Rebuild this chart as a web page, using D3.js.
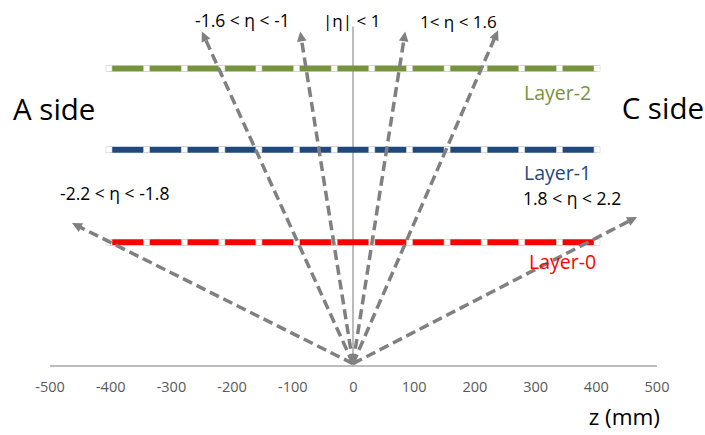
<!DOCTYPE html>
<html>
<head>
<meta charset="utf-8">
<script src="https://cdn.jsdelivr.net/npm/d3@7"></script>
<style>
  body { margin: 0; background: #fff; }
  svg { display: block; font-family: "Open Sans", sans-serif; }
</style>
</head>
<body>
<div id="chart"></div>
<script>
/* Daten: Lagen, Markerpositionen (z in mm), Pfeile */
var layerNames = ["Layer-0", "Layer-1", "Layer-2"];
var layerY = [200, 350, 482];
var layerColors = ["#ff0000", "#1f497d", "#77933c"];
var markerZ = [-402, -340, -278, -216, -155, -93, -31, 31, 93, 155, 216, 278, 340, 402];

var arrowOrigin = [0, 3];
var arrowEndZ = [-463, -249, -87, 86, 239, 468];
var arrowEndY = [231, 542, 542, 542, 544, 241];

var zTicks = [-500, -400, -300, -200, -100, 0, 100, 200, 300, 400, 500];
var etaLabels = ["-1.6 < \u03b7 < -1", "|\u03b7| < 1", "1< \u03b7 < 1.6", "-2.2 < \u03b7 < -1.8", "1.8 < \u03b7 < 2.2"];

var W = 705, H = 435;

var svg = d3.select("#chart").append("svg").attr("width", W).attr("height", H);
svg.append("rect").attr("width", W).attr("height", H).attr("fill", "white");

var x = d3.scaleLinear().domain([-500, 500]).range([49.5, 656.5]);
var y = d3.scaleLinear().domain([0, 550]).range([365.5, 26.5]);

/* x-Achse */
var axis = svg.append("g").attr("transform", "translate(0," + y(0) + ")")
  .call(d3.axisBottom(x).tickValues(zTicks).tickSize(0).tickPadding(16).tickFormat(function(d) { return String(d); }));
axis.select(".domain").attr("stroke", "#a6a6a6").attr("stroke-width", 1.5);
axis.selectAll("text").attr("fill", "#595959").attr("font-size", "14.5px").attr("font-family", "Open Sans, sans-serif");

/* senkrechte Linie bei z=0 */
svg.append("line").attr("x1", x(0)).attr("x2", x(0)).attr("y1", y(0)).attr("y2", y(550))
  .attr("stroke", "#a6a6a6").attr("stroke-width", 1.5);

/* Lagen */
layerY.forEach(function(ly, i) {
  var g = svg.append("g");
  g.append("line").attr("x1", x(markerZ[0])).attr("x2", x(markerZ[markerZ.length - 1]))
    .attr("y1", y(ly)).attr("y2", y(ly)).attr("stroke", layerColors[i]).attr("stroke-width", 6);
  g.selectAll("rect").data(markerZ).enter().append("rect")
    .attr("x", function(d) { return x(d) - 3; }).attr("y", y(ly) - 3)
    .attr("width", 6).attr("height", 6)
    .attr("fill", "white").attr("stroke", "#d0d0d0").attr("stroke-width", 0.6);
});

/* Pfeile */
var ox = x(arrowOrigin[0]), oy = y(arrowOrigin[1]);
arrowEndZ.forEach(function(z, i) {
  var tx = x(z), ty = y(arrowEndY[i]);
  var dx = tx - ox, dy = ty - oy, len = Math.sqrt(dx * dx + dy * dy);
  var ux = dx / len, uy = dy / len, head = 10, half = 4.8;
  var bx = tx - ux * head, by = ty - uy * head;
  svg.append("line").attr("x1", ox).attr("y1", oy).attr("x2", bx + ux * 1).attr("y2", by + uy * 1)
    .attr("stroke", "#808080").attr("stroke-width", 3.5).attr("stroke-dasharray", "10,5");
  svg.append("path")
    .attr("d", "M" + tx + "," + ty + "L" + (bx - uy * half) + "," + (by + ux * half) + "L" + (bx + uy * half) + "," + (by - ux * half) + "Z")
    .attr("fill", "#808080");
});

/* Beschriftungen */
function label(txt, lx, ly, size, color, anchor) {
  svg.append("text").attr("x", lx).attr("y", ly).attr("font-size", size + "px")
    .attr("fill", color).attr("text-anchor", anchor || "start").text(txt);
}
label(etaLabels[0], 195, 27, 17.5, "#000");
label(etaLabels[1], 323, 27, 17, "#000");
label(etaLabels[2], 420, 28, 17, "#000");
label(etaLabels[3], 60, 200, 17.5, "#000");
label(etaLabels[4], 523, 205, 17.5, "#000");

label(layerNames[2], 524, 100, 19.5, layerColors[2]);
label(layerNames[1], 524, 180, 19.5, layerColors[1]);
label(layerNames[0], 529, 269, 19.5, layerColors[0]);

label("A side", 13, 119.5, 29.5, "#000");
label("C side", 704, 118.5, 29.5, "#000", "end");
label("z (mm)", 660, 425, 22.5, "#000", "end");
</script>
</body>
</html>
